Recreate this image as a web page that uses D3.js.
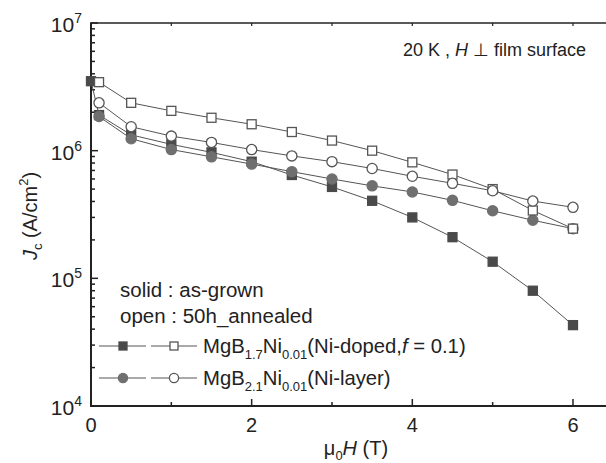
<!DOCTYPE html>
<html>
<head>
<meta charset="utf-8">
<script src="https://cdn.jsdelivr.net/npm/d3@7"></script>
<style>
  html, body { margin: 0; padding: 0; background: #fff; }
  svg { display: block; font-family: "Liberation Sans", Arial, Helvetica, sans-serif; }
</style>
</head>
<body>
<svg id="chart" width="606" height="463"></svg>
<script>
// Critical current density vs applied field at 20 K
const fieldsDopedSolid = [0, 0.1, 0.5, 1, 1.5, 2, 2.5, 3, 3.5, 4, 4.5, 5, 5.5, 6];
const jcDopedSolid = [3.5e6, 1.9e6, 1.33e6, 1.12e6, 9.7e5, 8.2e5, 6.45e5, 5.2e5, 4.05e5, 3.0e5, 2.1e5, 1.35e5, 8.0e4, 4.3e4];

const fields = [0.1, 0.5, 1, 1.5, 2, 2.5, 3, 3.5, 4, 4.5, 5, 5.5, 6];
const jcDopedOpen = [3.44e6, 2.37e6, 2.05e6, 1.81e6, 1.61e6, 1.40e6, 1.20e6, 1.0e6, 8.1e5, 6.5e5, 5.0e5, 3.4e5, 2.45e5];
const jcLayerSolid = [1.85e6, 1.24e6, 1.02e6, 8.95e5, 7.85e5, 6.85e5, 6.0e5, 5.3e5, 4.75e5, 4.08e5, 3.38e5, 2.85e5, 2.45e5];
const jcLayerOpen = [2.37e6, 1.54e6, 1.30e6, 1.16e6, 1.02e6, 9.1e5, 8.2e5, 7.25e5, 6.3e5, 5.55e5, 4.85e5, 4.03e5, 3.6e5];

const xTicks = [0, 2, 4, 6];
const xMinorTicks = [1, 3, 5];
const yExponents = [4, 5, 6, 7];

const svg = d3.select("#chart");
const plotLeft = 91, plotTop = 23, plotBottom = 406;

const x = d3.scaleLinear().domain([0, 6.45]).range([plotLeft, plotLeft + 6.45 * 80.33]);
const y = d3.scaleLog().domain([1e4, 1e7]).range([plotBottom, plotTop]);

const axisColor = "#222";
const lineColor = "#555";

// Frame and ticks
const frame = svg.append("g");
frame.append("line").attr("x1", plotLeft).attr("x2", plotLeft).attr("y1", plotTop).attr("y2", plotBottom)
  .attr("stroke", axisColor).attr("stroke-width", 2);
frame.append("line").attr("x1", plotLeft - 1).attr("x2", 606).attr("y1", plotBottom).attr("y2", plotBottom)
  .attr("stroke", axisColor).attr("stroke-width", 2);
frame.append("line").attr("x1", plotLeft - 1).attr("x2", 606).attr("y1", plotTop).attr("y2", plotTop)
  .attr("stroke", axisColor).attr("stroke-width", 1.5);

// y ticks (log)
const yMinor = [];
for (let e = 4; e < 7; e++) for (let m = 2; m <= 9; m++) yMinor.push(m * Math.pow(10, e));
frame.selectAll(".ymin").data(yMinor).enter().append("line")
  .attr("x1", plotLeft).attr("x2", plotLeft + 4).attr("y1", d => y(d)).attr("y2", d => y(d))
  .attr("stroke", axisColor).attr("stroke-width", 1.5);
frame.selectAll(".ymaj").data(yExponents).enter().append("line")
  .attr("x1", plotLeft).attr("x2", plotLeft + 7).attr("y1", d => y(Math.pow(10, d))).attr("y2", d => y(Math.pow(10, d)))
  .attr("stroke", axisColor).attr("stroke-width", 1.5);

// x ticks
frame.selectAll(".xmaj").data(xTicks).enter().append("line")
  .attr("x1", d => x(d)).attr("x2", d => x(d)).attr("y1", plotBottom).attr("y2", plotBottom - 7)
  .attr("stroke", axisColor).attr("stroke-width", 1.5);
frame.selectAll(".xmin").data(xMinorTicks).enter().append("line")
  .attr("x1", d => x(d)).attr("x2", d => x(d)).attr("y1", plotBottom).attr("y2", plotBottom - 4)
  .attr("stroke", axisColor).attr("stroke-width", 1.5);
frame.selectAll(".xtop").data(xTicks.concat(xMinorTicks)).enter().append("line")
  .attr("x1", d => x(d)).attr("x2", d => x(d)).attr("y1", plotTop).attr("y2", plotTop + 3)
  .attr("stroke", axisColor).attr("stroke-width", 1.2);

// tick labels
svg.selectAll(".xlab").data(xTicks).enter().append("text")
  .attr("x", d => x(d)).attr("y", 432).attr("text-anchor", "middle")
  .attr("font-size", 20).attr("fill", axisColor).text(d => d);

const ylab = svg.selectAll(".ylab").data(yExponents).enter().append("text")
  .attr("x", 82).attr("y", d => y(Math.pow(10, d)) + 9).attr("text-anchor", "end")
  .attr("font-size", 21).attr("fill", axisColor);
ylab.append("tspan").text("10");
ylab.append("tspan").attr("font-size", 14).attr("dy", -9).text(d => d);

// axis titles
const xt = svg.append("text").attr("x", 356).attr("y", 455).attr("text-anchor", "middle")
  .attr("font-size", 20).attr("fill", axisColor);
xt.append("tspan").text("\u03bc");
xt.append("tspan").attr("font-size", 13).attr("dy", 5).text("0");
xt.append("tspan").attr("dy", -5).attr("font-style", "italic").text("H");
xt.append("tspan").text(" (T)");

const yt = svg.append("text").attr("transform", "translate(37,216) rotate(-90)")
  .attr("text-anchor", "middle").attr("font-size", 20).attr("fill", axisColor);
yt.append("tspan").attr("font-style", "italic").text("J");
yt.append("tspan").attr("font-size", 13).attr("dy", 5).text("c");
yt.append("tspan").attr("dy", -5).text(" (A/cm");
yt.append("tspan").attr("font-size", 13).attr("dy", -9).text("2");
yt.append("tspan").attr("dy", 9).text(")");

// condition note
const note = svg.append("text").attr("x", 403).attr("y", 56).attr("font-size", 18).attr("fill", axisColor);
note.append("tspan").text("20 K , ");
note.append("tspan").attr("font-style", "italic").text("H");
note.append("tspan").text(" \u22a5 film surface");

// series
const series = [
  { xs: fieldsDopedSolid, ys: jcDopedSolid, shape: "square", fill: "#4a4a4a", stroke: "#4a4a4a" },
  { xs: fields, ys: jcLayerSolid, shape: "circle", fill: "#6f6f6f", stroke: "#6f6f6f" },
  { xs: fields, ys: jcDopedOpen, shape: "square", fill: "#fff", stroke: "#555" },
  { xs: fields, ys: jcLayerOpen, shape: "circle", fill: "#fff", stroke: "#555" }
];

const line = d3.line().x(d => x(d[0])).y(d => y(d[1]));

function drawMarker(g, shape, cx, cy, fill, stroke, size) {
  if (shape === "square") {
    g.append("rect").attr("x", cx - size / 2).attr("y", cy - size / 2)
      .attr("width", size).attr("height", size)
      .attr("fill", fill).attr("stroke", stroke).attr("stroke-width", 1.3);
  } else {
    g.append("circle").attr("cx", cx).attr("cy", cy).attr("r", size / 2 + 0.6)
      .attr("fill", fill).attr("stroke", stroke).attr("stroke-width", 1.3);
  }
}

series.forEach(s => {
  const pts = s.xs.map((v, i) => [v, s.ys[i]]);
  svg.append("path").datum(pts).attr("d", line)
    .attr("fill", "none").attr("stroke", lineColor).attr("stroke-width", 1);
});
series.forEach(s => {
  const g = svg.append("g");
  s.xs.forEach((v, i) => drawMarker(g, s.shape, x(v), y(s.ys[i]), s.fill, s.stroke, 9));
});

// legend
svg.append("text").attr("x", 120).attr("y", 297).attr("font-size", 20.5).attr("fill", axisColor).text("solid : as-grown");
svg.append("text").attr("x", 120).attr("y", 323).attr("font-size", 20.5).attr("fill", axisColor).text("open : 50h_annealed");

const legendRows = [
  { cy: 346, shape: "square", solid: "#4a4a4a",
    parts: [["MgB", 0], ["1.7", 1], ["Ni", 0], ["0.01", 1], ["(Ni-doped,", 0], ["f", 2], [" = 0.1)", 0]] },
  { cy: 378, shape: "circle", solid: "#6f6f6f",
    parts: [["MgB", 0], ["2.1", 1], ["Ni", 0], ["0.01", 1], ["(Ni-layer)", 0]] }
];
legendRows.forEach(r => {
  const g = svg.append("g");
  [[99, 146, 123, r.solid, r.solid], [151, 197, 174, "#fff", "#555"]].forEach(([a, b, m, f, st]) => {
    g.append("line").attr("x1", a).attr("x2", b).attr("y1", r.cy).attr("y2", r.cy)
      .attr("stroke", lineColor).attr("stroke-width", 1);
    drawMarker(g, r.shape, m, r.cy, f, st, 8);
  });
  const t = g.append("text").attr("x", 203).attr("y", r.cy + 7).attr("font-size", 20.3).attr("fill", axisColor);
  let sub = false;
  r.parts.forEach(([txt, kind]) => {
    const ts = t.append("tspan").text(txt);
    if (kind === 1) {
      ts.attr("font-size", 13).attr("dy", sub ? 0 : 6);
      sub = true;
    } else {
      if (sub) ts.attr("dy", -6);
      sub = false;
      if (kind === 2) ts.attr("font-style", "italic");
    }
  });
});
</script>
</body>
</html>
